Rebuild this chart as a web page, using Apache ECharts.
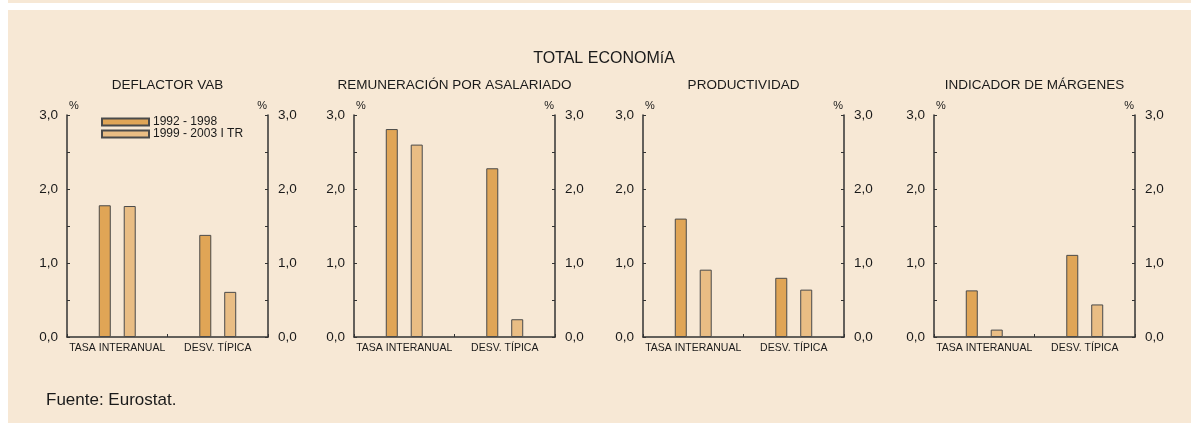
<!DOCTYPE html>
<html>
<head>
<meta charset="utf-8">
<script src="https://cdn.jsdelivr.net/npm/echarts@6/dist/echarts.min.js"></script>
<style>
  html, body { margin: 0; padding: 0; background: #fff; }
  #chart { width: 1191px; height: 423px; }
</style>
</head>
<body>
<div id="chart"></div>
<script>
// datos
const categorias = ["TASA INTERANUAL", "DESV. TÍPICA"];
const periodos = ["1992 - 1998", "1999 - 2003 I TR"];
const paneles = ["DEFLACTOR VAB", "REMUNERACIÓN POR ASALARIADO", "PRODUCTIVIDAD", "INDICADOR DE MÁRGENES"];

// [periodo][categoria]
const deflactor = [[1.78, 1.38], [1.77, 0.61]];
const remuneracion = [[2.81, 2.28], [2.6, 0.24]];
const productividad = [[1.6, 0.8], [0.91, 0.64]];
const margenes = [[0.63, 1.11], [0.1, 0.44]];
const valores = [deflactor, remuneracion, productividad, margenes];

const yTicks = ["0,0", "1,0", "2,0", "3,0"];

const colores = ["#e0a556", "#e9bd84"];
const fondo = "#f7e8d5";
const texto = "#1a1a1a";
const ejeColor = "#333";
const fuente = "Liberation Sans, Arial, sans-serif";

// posicion de cada panel (borde izquierdo del eje)
const izq = [67, 354, 643, 934];
const ancho = 201;
const arriba = 115;
const alto = 222;

const grids = [];
const xAxes = [];
const yAxes = [];
const series = [];
const titles = [
  {
    text: "TOTAL ECONOMíA",
    left: 604,
    top: 51,
    padding: 0,
    textAlign: "center",
    textStyle: { fontSize: 16, fontWeight: "normal", color: texto, fontFamily: fuente },
  },
  {
    text: "Fuente: Eurostat.",
    left: 46,
    top: 392,
    padding: 0,
    textStyle: { fontSize: 17, fontWeight: "normal", color: texto, fontFamily: fuente },
  },
];

const yAxisBase = (pos) => ({
  type: "value",
  position: pos,
  min: 0,
  max: 3,
  interval: 1,
  name: "%",
  nameLocation: "end",
  nameGap: 4,
  nameTextStyle: {
    fontSize: 11,
    color: texto,
    fontFamily: fuente,
    align: pos === "left" ? "left" : "right",
    padding: pos === "left" ? [0, 0, 0, 2] : [0, 1, 0, 0],
  },
  axisLine: { show: true, lineStyle: { color: ejeColor, width: 1.5 } },
  axisTick: { show: true, inside: true, length: 3, lineStyle: { color: ejeColor } },
  minorTick: { show: true, splitNumber: 2, length: 3, lineStyle: { color: ejeColor } },
  splitLine: { show: false },
  axisLabel: {
    margin: pos === "left" ? 9 : 10,
    fontSize: 13.5,
    color: texto,
    fontFamily: fuente,
    formatter: (v) => yTicks[Math.round(v)],
  },
});

paneles.forEach((nombre, i) => {
  grids.push({ left: izq[i], top: arriba, width: ancho, height: alto });
  titles.push({
    text: nombre,
    left: izq[i] + ancho / 2,
    top: 78,
    padding: 0,
    textAlign: "center",
    textStyle: { fontSize: 13.5, fontWeight: "normal", color: texto, fontFamily: fuente },
  });
  xAxes.push({
    type: "category",
    gridIndex: i,
    data: categorias,
    axisLine: { lineStyle: { color: ejeColor, width: 1.5 } },
    axisTick: { show: true, inside: true, length: 3, lineStyle: { color: ejeColor } },
    axisLabel: { margin: 6, fontSize: 10.5, color: texto, fontFamily: fuente, interval: 0 },
  });
  yAxes.push(Object.assign(yAxisBase("left"), { gridIndex: i }));
  yAxes.push(Object.assign(yAxisBase("right"), { gridIndex: i }));
  periodos.forEach((p, k) => {
    series.push({
      name: p,
      type: "bar",
      xAxisIndex: i,
      yAxisIndex: i * 2,
      data: valores[i][k],
      barWidth: 12,
      barGap: "108%",
      itemStyle: { color: colores[k], borderColor: "#4a4a4a", borderWidth: 1 },
      silent: true,
    });
  });
});

const chart = echarts.init(document.getElementById("chart"));
chart.setOption({
  animation: false,
  backgroundColor: "#fff",
  graphic: [
    { type: "rect", z: -10, shape: { x: 8, y: 0, width: 1183, height: 3 }, style: { fill: fondo } },
    { type: "rect", z: -10, shape: { x: 8, y: 10, width: 1183, height: 413 }, style: { fill: fondo } },
  ],
  title: titles,
  legend: {
    data: periodos,
    orient: "vertical",
    left: 96,
    top: 111,
    itemWidth: 47,
    itemHeight: 7,
    itemGap: 0,
    icon: "rect",
    textStyle: { fontSize: 12, lineHeight: 12, color: texto, fontFamily: fuente, padding: [0, 0, 0, -1] },
    selectedMode: false,
  },
  grid: grids,
  xAxis: xAxes,
  yAxis: yAxes,
  series: series,
});
</script>
</body>
</html>
